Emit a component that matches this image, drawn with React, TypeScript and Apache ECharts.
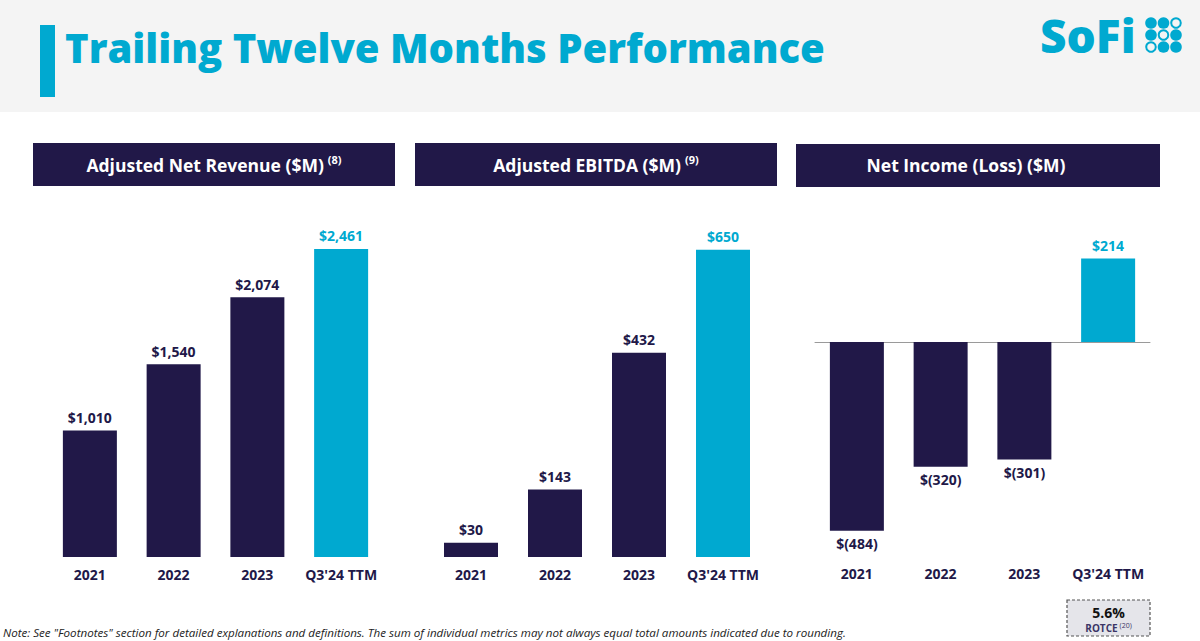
import React, { useEffect, useRef } from "react";
import * as echarts from "echarts";

const categories = ["2021", "2022", "2023", "Q3'24 TTM"];
const revenueValues = [1010, 1540, 2074, 2461];
const ebitdaValues = [30, 143, 432, 650];
const netIncomeValues = [-484, -320, -301, 214];
const panelTitles = ["Adjusted Net Revenue ($M)", "Adjusted EBITDA ($M)", "Net Income (Loss) ($M)"];
const panelFootnotes = ["(8)", "(9)", ""];

const NAVY = "#211848";
const CYAN = "#00a9d0";
const FONT = "'Open Sans', 'Noto Sans', sans-serif";

const fmt = (v: number) =>
  v >= 0 ? "$" + v.toLocaleString("en-US") : "$(" + Math.abs(v).toLocaleString("en-US") + ")";

const barData = (vals: number[]) =>
  vals.map((v, i) => ({
    value: v,
    itemStyle: { color: i === vals.length - 1 ? CYAN : NAVY },
    label: {
      show: true,
      position: v >= 0 ? "top" : "bottom",
      distance: 6,
      formatter: fmt(v),
      color: i === vals.length - 1 ? CYAN : NAVY,
      fontFamily: FONT,
      fontWeight: "bold",
      fontSize: 14,
    },
  }));

export default function App() {
  const ref = useRef<HTMLDivElement>(null);
  useEffect(() => {
    const chart = echarts.init(ref.current!, null, { renderer: "svg" });
    const catLabel = { fontFamily: FONT, fontWeight: "bold", fontSize: 14, color: NAVY, interval: 0 };
    const panelX = [33, 415, 796];
    const panelW = [362, 362, 364];
    const textCx = [214, 596, 966];
    const graphics: any[] = [
      { type: "rect", shape: { x: 0, y: 0, width: 1200, height: 112 }, style: { fill: "#f4f4f4" } },
      { type: "rect", shape: { x: 40, y: 25, width: 15, height: 72 }, style: { fill: CYAN } },
      {
        type: "text",
        x: 65,
        y: 47,
        style: {
          text: "Trailing Twelve Months Performance",
          fontFamily: FONT,
          fontWeight: 800,
          fontSize: 40,
          fill: CYAN,
          verticalAlign: "middle",
        },
      },
      {
        type: "text",
        x: 1040,
        y: 35,
        style: {
          text: "SoFi",
          fontFamily: FONT,
          fontWeight: 800,
          fontSize: 46,
          fill: CYAN,
          verticalAlign: "middle",
        },
      },
    ];
    const pattern = [
      [1, 1, 0],
      [1, 0, 1],
      [0, 1, 1],
    ];
    pattern.forEach((row, r) =>
      row.forEach((f, c) => {
        graphics.push({
          type: "circle",
          shape: { cx: 1151 + c * 12.5, cy: 23 + r * 12, r: f ? 5.8 : 4.8 },
          style: f ? { fill: CYAN } : { fill: "none", stroke: CYAN, lineWidth: 2 },
        });
      })
    );
    panelTitles.forEach((t, i) => {
      graphics.push({
        type: "rect",
        shape: { x: panelX[i], y: 143 + (i === 2 ? 1 : 0), width: panelW[i], height: 43 },
        style: { fill: NAVY },
      });
      graphics.push({
        type: "text",
        x: textCx[i],
        y: 165,
        style: {
          text: "{a|" + t + "}" + (panelFootnotes[i] ? "{s|" + panelFootnotes[i] + "}" : ""),
          align: "center",
          verticalAlign: "middle",
          fill: "#ffffff",
          rich: {
            a: { fontFamily: FONT, fontWeight: "bold", fontSize: 17.5, fill: "#ffffff" },
            s: {
              fontFamily: FONT,
              fontWeight: "bold",
              fontSize: 11,
              fill: "#ffffff",
              padding: [0, 0, 12, 4],
            },
          },
        },
      });
    });
    // ROTCE box
    graphics.push({
      type: "rect",
      shape: { x: 1067, y: 600, width: 83, height: 36 },
      style: { fill: "#e5e5ea", stroke: "#555", lineWidth: 1.2, lineDash: [3, 2] },
    });
    graphics.push({
      type: "text",
      x: 1108.5,
      y: 612,
      style: {
        text: "5.6%",
        align: "center",
        verticalAlign: "middle",
        fontFamily: FONT,
        fontWeight: "bold",
        fontSize: 14,
        fill: "#111",
      },
    });
    graphics.push({
      type: "text",
      x: 1108.5,
      y: 628,
      style: {
        text: "{a|ROTCE}{s|(20)}",
        align: "center",
        verticalAlign: "middle",
        fill: "#3b3566",
        rich: {
          a: { fontFamily: FONT, fontWeight: "bold", fontSize: 10, fill: "#3b3566" },
          s: { fontFamily: FONT, fontSize: 7, fill: "#3b3566", padding: [0, 0, 6, 2] },
        },
      },
    });
    graphics.push({
      type: "text",
      x: 3,
      y: 632,
      style: {
        text:
          'Note: See "Footnotes" section for detailed explanations and definitions. The sum of individual metrics may not always equal total amounts indicated due to rounding.',
        verticalAlign: "middle",
        fontFamily: FONT,
        fontStyle: "italic",
        fontSize: 11.6,
        fill: "#222",
      },
    });

    const hiddenY = { show: false };
    chart.setOption({
      animation: false,
      backgroundColor: "#ffffff",
      graphic: graphics,
      grid: [
        { left: 48, width: 335, top: 244, height: 313 },
        { left: 429, width: 336, top: 226, height: 331 },
        { left: 815, width: 335, top: 225, height: 312 },
      ],
      xAxis: [
        {
          type: "category",
          gridIndex: 0,
          data: categories,
          axisLine: { show: false },
          axisTick: { show: false },
          axisLabel: { ...catLabel, margin: 10 },
        },
        {
          type: "category",
          gridIndex: 1,
          data: categories,
          axisLine: { show: false },
          axisTick: { show: false },
          axisLabel: { ...catLabel, margin: 10 },
        },
        {
          type: "category",
          gridIndex: 2,
          data: categories,
          axisLine: { show: true, onZero: true, lineStyle: { color: "#9a9a9a", width: 1 } },
          axisTick: { show: false },
          axisLabel: { show: false },
        },
        {
          type: "category",
          gridIndex: 2,
          data: categories,
          position: "bottom",
          axisLine: { show: false, onZero: false },
          axisTick: { show: false },
          axisLabel: { ...catLabel, margin: 29 },
        },
      ],
      yAxis: [
        { type: "value", gridIndex: 0, min: 0, max: 2500, ...hiddenY },
        { type: "value", gridIndex: 1, min: 0, max: 700, ...hiddenY },
        { type: "value", gridIndex: 2, min: -500, max: 300, ...hiddenY },
      ],
      series: [
        { type: "bar", xAxisIndex: 0, yAxisIndex: 0, barWidth: 54, data: barData(revenueValues) },
        { type: "bar", xAxisIndex: 1, yAxisIndex: 1, barWidth: 54, data: barData(ebitdaValues) },
        { type: "bar", xAxisIndex: 2, yAxisIndex: 2, barWidth: 54, data: barData(netIncomeValues) },
      ],
    });
    return () => chart.dispose();
  }, []);
  return (
    <div
      ref={ref}
      style={{ position: "fixed", left: 0, top: 0, width: 1200, height: 641 }}
    />
  );
}
